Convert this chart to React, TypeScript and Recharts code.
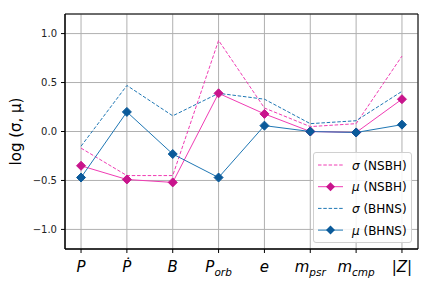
import React from 'react';
import { LineChart, Line, XAxis, YAxis, CartesianGrid, ReferenceArea } from 'recharts';

const categories = ['P', 'Pdot', 'B', 'Porb', 'e', 'mpsr', 'mcmp', 'Z'];
const sigmaNSBH = [-0.17, -0.45, -0.45, 0.93, 0.24, 0.05, 0.08, 0.77];
const muNSBH = [-0.35, -0.49, -0.52, 0.39, 0.18, 0.0, -0.01, 0.33];
const sigmaBHNS = [-0.15, 0.47, 0.16, 0.39, 0.33, 0.08, 0.11, 0.41];
const muBHNS = [-0.47, 0.2, -0.23, -0.47, 0.06, 0.0, -0.01, 0.07];
const yTicks = [-1.0, -0.5, 0.0, 0.5, 1.0];

const data = categories.map((c, i) => ({
  x: i,
  name: c,
  sN: sigmaNSBH[i],
  mN: muNSBH[i],
  sB: sigmaBHNS[i],
  mB: muBHNS[i],
}));

const PINK = '#f03cb4';
const PINK_M = '#c8148c';
const BLUE = '#1f77b4';
const BLUE_M = '#0b5a9a';
const FONT = 'DejaVu Sans, sans-serif';

const Diamond = (color: string) => (props: any) => {
  const { cx, cy } = props;
  if (cx == null || cy == null) return null;
  const r = 4.5;
  return (
    <path
      d={`M${cx},${cy - r}L${cx + r},${cy}L${cx},${cy + r}L${cx - r},${cy}Z`}
      fill={color}
      stroke={color}
      strokeWidth={1}
    />
  );
};

const XTick = (props: any) => {
  const { x, y, payload } = props;
  const c = categories[payload.value];
  const base = { fontFamily: FONT, fontStyle: 'italic', fill: '#000' } as any;
  let content: any = null;
  if (c === 'P') content = <tspan>P</tspan>;
  else if (c === 'Pdot') content = <tspan>Ṗ</tspan>;
  else if (c === 'B') content = <tspan>B</tspan>;
  else if (c === 'e') content = <tspan>e</tspan>;
  else if (c === 'Porb')
    content = (
      <>
        <tspan>P</tspan>
        <tspan fontSize={10.5} dy={3.5}>orb</tspan>
      </>
    );
  else if (c === 'mpsr')
    content = (
      <>
        <tspan>m</tspan>
        <tspan fontSize={10.5} dy={3.5}>psr</tspan>
      </>
    );
  else if (c === 'mcmp')
    content = (
      <>
        <tspan>m</tspan>
        <tspan fontSize={10.5} dy={3.5}>cmp</tspan>
      </>
    );
  else if (c === 'Z')
    content = (
      <>
        <tspan fontStyle="normal">|</tspan>
        <tspan>Z</tspan>
        <tspan fontStyle="normal">|</tspan>
      </>
    );
  return (
    <text x={x} y={y + 17} textAnchor="middle" fontSize={15} {...base}>
      {content}
    </text>
  );
};

const YTick = (props: any) => {
  const { x, y, payload } = props;
  const v = payload.value as number;
  const s = (v < 0 ? '\u2212' : '') + Math.abs(v).toFixed(1);
  return (
    <text x={x - 2} y={y + 3.5} textAnchor="end" fontSize={10} fontFamily={FONT} fill="#222">
      {s}
    </text>
  );
};

const LegendBox = () => {
  const items = [
    { sym: 'σ', lab: ' (NSBH)', color: PINK, dash: true, mk: PINK_M },
    { sym: 'μ', lab: ' (NSBH)', color: PINK, dash: false, mk: PINK_M },
    { sym: 'σ', lab: ' (BHNS)', color: BLUE, dash: true, mk: BLUE_M },
    { sym: 'μ', lab: ' (BHNS)', color: BLUE, dash: false, mk: BLUE_M },
  ];
  return (
    <div
      style={{
        position: 'absolute',
        left: 313,
        top: 152,
        width: 99,
        height: 91,
        border: '1px solid #d0d0d0',
        borderRadius: 3,
        background: 'rgba(255,255,255,0.85)',
        boxSizing: 'border-box',
      }}
    >
      <svg width={99} height={91} style={{ position: 'absolute', left: -1, top: -1 }}>
        {items.map((it, i) => {
          const yy = 13 + i * 21.7;
          return (
            <g key={i}>
              <line
                x1={5}
                x2={30}
                y1={yy}
                y2={yy}
                stroke={it.color}
                strokeWidth={1}
                strokeDasharray={it.dash ? '3.5 1.8' : undefined}
              />
              {!it.dash && (
                <path d={`M17.5,${yy - 4.5}L22,${yy}L17.5,${yy + 4.5}L13,${yy}Z`} fill={it.mk} />
              )}
              <text x={39} y={yy + 4.5} fontSize={12} fontFamily={FONT} fill="#000">
                <tspan fontStyle="italic">{it.sym}</tspan>
                <tspan>{it.lab}</tspan>
              </text>
            </g>
          );
        })}
      </svg>
    </div>
  );
};

export default function App() {
  return (
    <div style={{ position: 'absolute', left: 0, top: 0, width: 432, height: 288, background: '#fff' }}>
      <LineChart width={432} height={288} data={data} margin={{ top: 14, right: 14, bottom: 0, left: 0 }}>
        <CartesianGrid stroke="#b0b0b0" strokeWidth={1} />
        <XAxis
          dataKey="x"
          type="number"
          domain={[-0.35, 7.35]}
          ticks={[0, 1, 2, 3, 4, 5, 6, 7]}
          interval={0}
          tick={<XTick />}
          tickSize={4}
          axisLine={{ stroke: '#000' }}
          tickLine={{ stroke: '#000' }}
          height={39}
          allowDataOverflow
        />
        <YAxis
          type="number"
          domain={[-1.2, 1.2]}
          ticks={yTicks}
          tick={<YTick />}
          tickSize={4}
          width={65}
          axisLine={{ stroke: '#000' }}
          tickLine={{ stroke: '#000' }}
          allowDataOverflow
          label={{
            value: 'log (σ, μ)',
            angle: -90,
            position: 'insideLeft',
            offset: 16,
            style: { fontFamily: FONT, fontSize: 15, fill: '#000', textAnchor: 'middle' },
          }}
        />
        <ReferenceArea x1={-0.35} x2={7.35} y1={-1.2} y2={1.2} fill="none" stroke="#000" strokeWidth={1} />
        <Line type="linear" dataKey="sN" stroke={PINK} strokeWidth={1} strokeDasharray="3.5 1.8" dot={false} isAnimationActive={false} />
        <Line type="linear" dataKey="mN" stroke={PINK} strokeWidth={1} dot={Diamond(PINK_M)} activeDot={false} isAnimationActive={false} />
        <Line type="linear" dataKey="sB" stroke={BLUE} strokeWidth={1} strokeDasharray="3.5 1.8" dot={false} isAnimationActive={false} />
        <Line type="linear" dataKey="mB" stroke={BLUE} strokeWidth={1} dot={Diamond(BLUE_M)} activeDot={false} isAnimationActive={false} />
      </LineChart>
      <LegendBox />
    </div>
  );
}
